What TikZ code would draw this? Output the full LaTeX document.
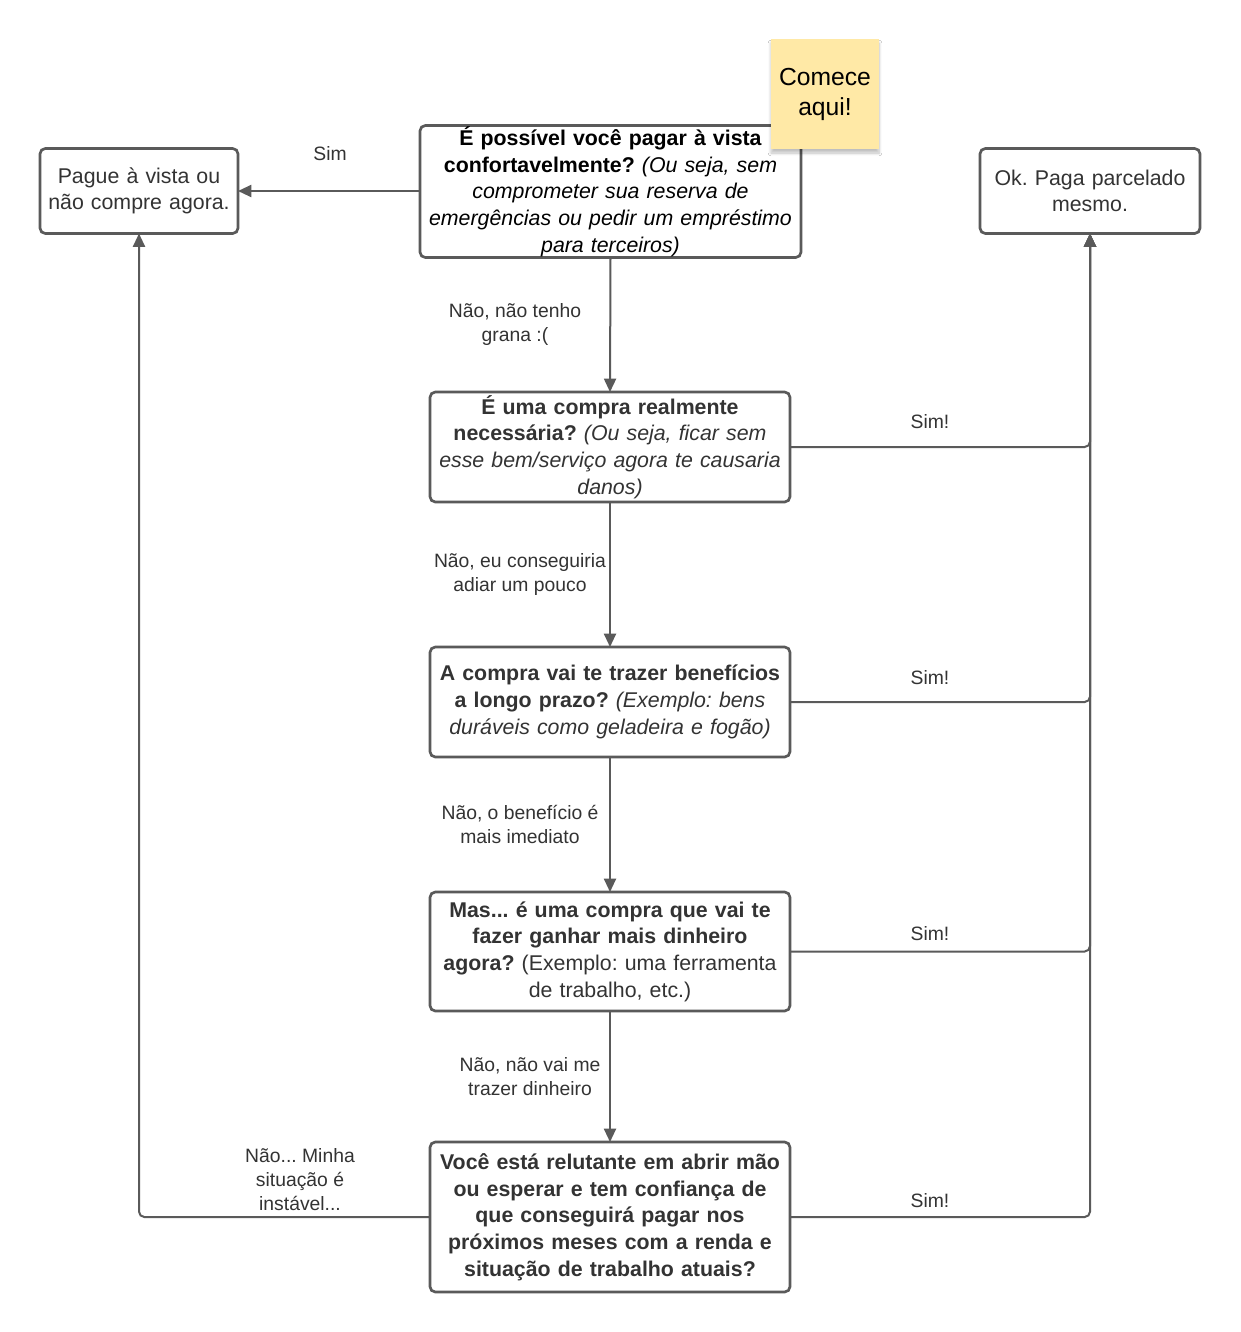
\documentclass[tikz,border=0pt]{standalone}
\usepackage{fontspec}
\setmainfont{Liberation Sans}
\usetikzlibrary{arrows.meta,shadows.blur}
\definecolor{linec}{HTML}{5A5A5A}
\definecolor{txtc}{HTML}{333333}
\definecolor{sticky}{HTML}{FFE9A6}
\frenchspacing
\begin{document}
\begin{tikzpicture}[x=0.75pt,y=-0.75pt,
  box/.style={draw=linec, line width=2pt, rounded corners=4pt, fill=white,
    inner sep=0pt, outer sep=0pt, align=center, text=txtc,
    font=\fontsize{16}{20}\selectfont\frenchspacing},
  lbl/.style={align=center, text=txtc, font=\fontsize{14.5}{18}\selectfont\frenchspacing, inner sep=0pt},
  conn/.style={draw=linec, line width=1.5pt, rounded corners=4pt},
  arr/.style={conn, -{Triangle[length=10pt,width=9pt]}}]
\useasboundingbox (0,0) rectangle (1240,1332);
\fill[white] (0,0) rectangle (1240,1332);

\node[box, minimum width=285.75pt, minimum height=99pt, text width=280pt, text=black] (q1) at (610.5,191.5)
  {\textbf{É possível você pagar à vista}\\\textbf{confortavelmente?} \textit{(Ou seja, sem}\\\textit{comprometer sua reserva de}\\\textit{emergências ou pedir um empréstimo}\\\textit{para terceiros)}};
\node[box, minimum width=148.5pt, minimum height=63.75pt, text width=146pt] (pague) at (139,191)
  {Pague à vista ou\\não compre agora.};
\node[box, minimum width=165pt, minimum height=63.75pt, text width=162pt] (ok) at (1090,191)
  {Ok. Paga parcelado\\mesmo.};
\node[fill=sticky, minimum width=81pt, minimum height=82.5pt, text width=78pt, align=center, inner sep=0pt,
  blur shadow={shadow xshift=0pt, shadow yshift=-3pt, shadow blur steps=6, shadow opacity=25},
  font=\fontsize{18.5}{22.5}\selectfont\frenchspacing] (start) at (825,94) {Comece\\aqui!};

\node[box, minimum width=270pt, minimum height=82.5pt, text width=268pt] (q2) at (610,447)
  {\textbf{É uma compra realmente}\\\textbf{necessária?} \textit{(Ou seja, ficar sem}\\\textit{esse bem/serviço agora te causaria}\\\textit{danos)}};
\node[box, minimum width=270pt, minimum height=82.5pt, text width=268pt] (q3) at (610,702)
  {\textbf{A compra vai te trazer benefícios}\\\textbf{a longo prazo?} \textit{(Exemplo: bens}\\\textit{duráveis como geladeira e fogão)}};
\node[box, minimum width=270pt, minimum height=89.25pt, text width=268pt] (q4) at (610,951.5)
  {\textbf{Mas... é uma compra que vai te}\\\textbf{fazer ganhar mais dinheiro}\\\textbf{agora?} (Exemplo: uma ferramenta\\de trabalho, etc.)};
\node[box, minimum width=270pt, minimum height=112.5pt, text width=268pt] (q5) at (610,1217)
  {\textbf{Você está relutante em abrir mão}\\\textbf{ou esperar e tem confiança de}\\\textbf{que conseguirá pagar nos}\\\textbf{próximos meses com a renda e}\\\textbf{situação de trabalho atuais?}};

% connectors
\draw[arr] (q1.west |- pague.east) -- (pague.east);
\draw[arr] (q1.south) -- (q2.north);
\draw[arr] (q2.south) -- (q3.north);
\draw[arr] (q3.south) -- (q4.north);
\draw[arr] (q4.south) -- (q5.north);
\draw[arr] (q2.east) -| (ok.south);
\draw[arr] (q3.east) -| (ok.south);
\draw[arr] (q4.east) -| (ok.south);
\draw[arr] (q5.east) -| (ok.south);
\draw[arr] (q5.west) -| (pague.south);

% labels
\node[lbl] (l1) at (330,154) {Sim};
\node[lbl] (l2) at (515,324) {Não, não tenho\\grana :(};
\node[lbl] (l3) at (520,574) {Não, eu conseguiria\\adiar um pouco};
\node[lbl] (l4) at (520,824) {Não, o benefício é\\mais imediato};
\node[lbl] (l5) at (530,1077) {Não, não vai me\\trazer dinheiro};
\node[lbl] (l6) at (300,1180) {Não... Minha\\situação é\\instável...};
\node[lbl] (s2) at (930,422) {Sim!};
\node[lbl] (s3) at (930,678) {Sim!};
\node[lbl] (s4) at (930,934) {Sim!};
\node[lbl] (s5) at (930,1201) {Sim!};
\end{tikzpicture}
\end{document}
